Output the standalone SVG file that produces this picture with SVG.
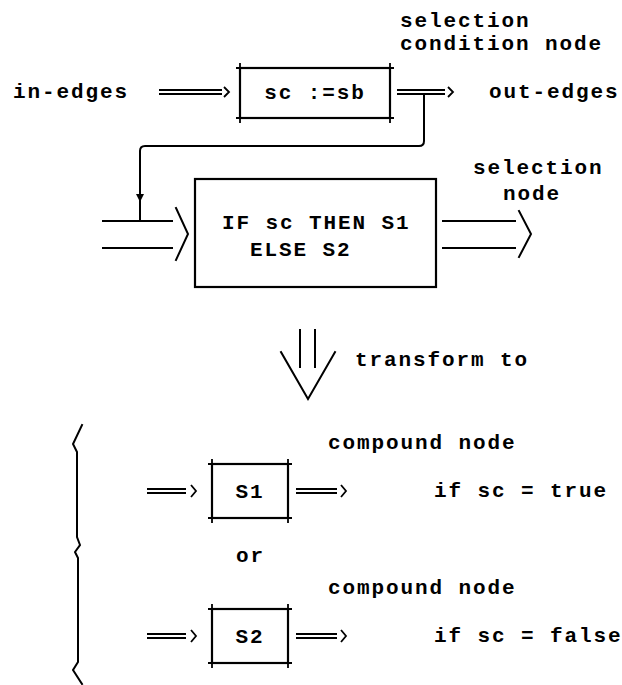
<svg xmlns="http://www.w3.org/2000/svg" width="622" height="685" viewBox="0 0 622 685">
<style>
text{font-family:"Liberation Mono","DejaVu Sans Mono",monospace;font-weight:bold;font-size:21px;letter-spacing:1.9px;fill:#000}
.box{fill:none;stroke:#000;stroke-width:2.2}
.ln{fill:none;stroke:#000;stroke-width:2;stroke-linecap:square}
.thin{fill:none;stroke:#000;stroke-width:1.8}
</style>
<rect width="622" height="685" fill="#fff"/>

<g id="labels">
<text x="400" y="27">selection</text>
<text x="400" y="50">condition node</text>
<text x="13" y="98">in-edges</text>
<text x="489" y="98">out-edges</text>
<text x="473" y="174">selection</text>
<text x="503" y="200">node</text>
<text x="355" y="366">transform to</text>
<text x="328" y="449">compound node</text>
<text x="434" y="497">if sc = true</text>
<text x="236" y="562">or</text>
<text x="328" y="594">compound node</text>
<text x="434" y="642">if sc = false</text>
</g>

<g id="node-sc">
<rect class="box" x="240" y="68" width="150" height="50"/>
<path class="thin" d="M236,68H394M236,118H394M240,63V123M390,63V123"/>
<text x="315" y="99" text-anchor="middle">sc :=sb</text>
</g>

<g id="node-if">
<rect class="box" x="195" y="179" width="241" height="108" stroke-width="2.6"/>
<text x="222" y="229">IF sc THEN S1</text>
<text x="250" y="256">ELSE S2</text>
</g>

<g id="node-s1">
<rect class="box" x="212" y="464" width="76" height="54"/>
<path class="thin" d="M208,464H292M208,518H292M212,459V523M288,459V523"/>
<text x="250" y="498" text-anchor="middle">S1</text>
</g>

<g id="node-s2">
<rect class="box" x="212" y="609" width="76" height="54"/>
<path class="thin" d="M208,609H292M208,663H292M212,604V668M288,604V668"/>
<text x="250" y="643" text-anchor="middle">S2</text>
</g>

<g id="connectors">
<path class="ln" d="M160,90H221M160,94H221"/>
<path class="thin" d="M224,87L229,92L224,97"/>
<path class="ln" d="M398,90H444M398,94H444"/>
<path class="thin" d="M448,87L453,92L448,97"/>
<path class="ln" d="M424,94V141Q424,146 419,146H145Q140,146 140,151V221"/>
<path d="M136,194L140,202L144,194Z" fill="#000"/>
<path class="ln" d="M103,221H172M103,248H172"/>
<path class="ln" d="M176,208L188,234L176,260"/>
<path class="ln" d="M443,221H515M443,248H515"/>
<path class="ln" d="M519,211L531,234L519,257"/>
<path class="ln" d="M300,330V367M315,330V367"/>
<path class="ln" d="M281,352L308,399L335,352"/>
<path class="ln" d="M82,425L73,444L77,452V537L80,545L75,552L78,558V662L73,670L82,684"/>
<path class="ln" d="M148,489H185M148,493H185"/>
<path class="thin" d="M191,485L196,491L191,497"/>
<path class="ln" d="M297,489H336M297,493H336"/>
<path class="thin" d="M341,485L346,491L341,497"/>
<path class="ln" d="M148,634H185M148,638H185"/>
<path class="thin" d="M191,630L196,636L191,642"/>
<path class="ln" d="M297,634H336M297,638H336"/>
<path class="thin" d="M341,630L346,636L341,642"/>
</g>
</svg>
